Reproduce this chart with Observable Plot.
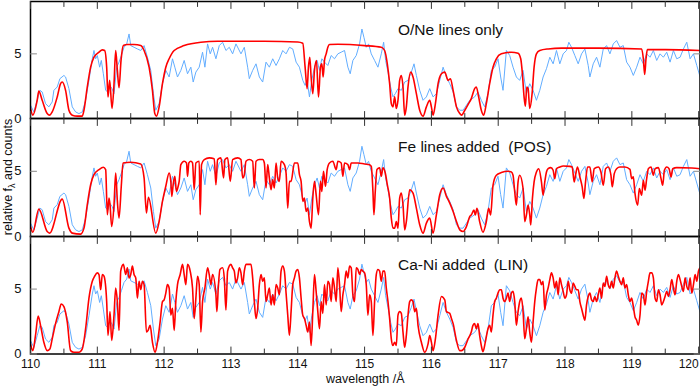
<!DOCTYPE html>
<html><head><meta charset="utf-8">
<script src="https://cdn.jsdelivr.net/npm/d3@7"></script>
<script src="https://cdn.jsdelivr.net/npm/@observablehq/plot@0.6"></script>
<style>
body{margin:0;background:#fff;}
#chart{position:relative;width:700px;height:387px;font-family:"Liberation Sans",Arial,sans-serif;}
#chart svg{display:block;}
</style></head><body><div id="chart"></div>
<script>
// observed counts (blue), wavelength in Å and relative value
const observed = [[110.000,1.03],[110.050,0.51],[110.100,1.41],[110.140,2.18],[110.175,2.05],[110.225,1.15],[110.275,0.90],[110.325,1.28],[110.350,2.18],[110.400,2.44],[110.440,3.08],[110.500,3.33],[110.525,3.21],[110.575,2.31],[110.625,0.90],[110.675,0.51],[110.725,0.38],[110.775,0.51],[110.825,1.41],[110.875,2.95],[110.925,4.62],[110.950,5.26],[110.975,4.62],[111.000,4.87],[111.035,3.97],[111.060,4.49],[111.090,3.46],[111.125,2.18],[111.160,2.05],[111.185,2.56],[111.220,2.31],[111.250,1.92],[111.290,3.97],[111.325,4.36],[111.360,4.87],[111.400,5.51],[111.440,5.77],[111.475,6.54],[111.500,5.64],[111.550,5.51],[111.600,5.38],[111.650,5.26],[111.700,5.64],[111.750,4.74],[111.800,3.72],[111.840,1.92],[111.875,0.64],[111.925,1.15],[111.975,2.69],[112.025,3.72],[112.075,3.21],[112.125,4.62],[112.160,3.97],[112.200,3.21],[112.250,3.72],[112.300,4.49],[112.350,3.46],[112.400,3.97],[112.435,2.82],[112.475,3.59],[112.525,3.97],[112.575,5.13],[112.610,3.97],[112.650,5.77],[112.690,5.00],[112.725,5.51],[112.775,4.62],[112.825,5.64],[112.875,5.90],[112.925,5.26],[112.975,5.51],[113.025,5.00],[113.075,5.77],[113.150,5.00],[113.200,5.51],[113.250,3.97],[113.275,3.08],[113.325,3.72],[113.375,4.23],[113.425,3.21],[113.475,2.82],[113.525,4.36],[113.575,3.97],[113.625,4.62],[113.675,4.10],[113.725,4.62],[113.775,5.26],[113.825,5.00],[113.875,5.51],[113.925,5.38],[113.975,4.36],[114.025,3.97],[114.075,2.95],[114.110,2.56],[114.140,2.95],[114.175,1.67],[114.210,2.95],[114.250,3.97],[114.290,4.49],[114.325,3.72],[114.360,4.62],[114.400,4.36],[114.450,4.10],[114.500,4.87],[114.550,4.62],[114.600,5.00],[114.650,5.13],[114.700,5.26],[114.750,3.97],[114.785,3.46],[114.825,4.49],[114.875,4.87],[114.925,5.77],[114.960,6.92],[114.990,6.28],[115.025,5.51],[115.060,5.77],[115.100,5.00],[115.150,4.49],[115.200,3.97],[115.250,5.00],[115.285,5.90],[115.315,4.49],[115.350,3.59],[115.390,2.44],[115.425,1.67],[115.460,1.92],[115.500,2.31],[115.550,2.18],[115.600,2.82],[115.650,2.95],[115.700,3.59],[115.740,4.23],[115.775,3.33],[115.825,2.18],[115.875,1.41],[115.925,1.67],[115.975,2.31],[116.025,1.67],[116.075,1.92],[116.125,2.95],[116.175,3.97],[116.225,3.21],[116.275,2.69],[116.325,2.05],[116.375,0.90],[116.425,0.64],[116.475,0.64],[116.525,1.03],[116.575,1.41],[116.647,1.67],[116.697,2.05],[116.747,1.41],[116.797,0.90],[116.847,1.92],[116.897,3.72],[116.947,3.97],[116.997,4.62],[117.037,3.21],[117.072,2.18],[117.122,5.26],[117.172,4.87],[117.222,3.97],[117.272,3.21],[117.322,2.95],[117.372,3.72],[117.422,1.92],[117.472,2.69],[117.522,2.18],[117.572,1.41],[117.622,2.18],[117.672,3.21],[117.722,3.85],[117.772,4.74],[117.822,4.23],[117.872,5.26],[117.922,4.23],[117.972,5.00],[118.022,5.26],[118.057,5.90],[118.097,5.51],[118.147,4.87],[118.197,4.23],[118.247,5.00],[118.297,5.38],[118.347,4.10],[118.372,3.21],[118.422,4.23],[118.472,4.74],[118.522,3.97],[118.572,5.38],[118.622,5.64],[118.672,5.00],[118.722,5.77],[118.772,6.03],[118.822,5.51],[118.872,5.64],[118.922,4.36],[118.972,3.97],[119.022,3.33],[119.072,3.97],[119.122,4.74],[119.172,4.23],[119.222,5.00],[119.272,4.74],[119.322,5.26],[119.372,4.49],[119.422,5.00],[119.472,4.74],[119.522,5.13],[119.572,4.36],[119.622,5.26],[119.672,4.62],[119.722,4.74],[119.772,5.38],[119.822,5.90],[119.872,4.62],[119.922,5.00],[119.972,4.10],[120.022,3.21]];

// model: O/Ne lines only (red, panel 1)
const modelONe = [[110.000,0.77],[110.035,0.26],[110.100,1.41],[110.125,2.13],[110.175,1.41],[110.250,0.38],[110.285,0.26],[110.325,0.51],[110.400,1.67],[110.450,2.69],[110.475,2.82],[110.525,2.18],[110.575,0.64],[110.625,0.26],[110.700,0.18],[110.775,0.18],[110.800,0.64],[110.850,2.44],[110.900,3.97],[110.950,4.74],[111.025,5.13],[111.075,5.31],[111.110,5.26],[111.140,3.97],[111.160,1.67],[111.185,2.95],[111.220,0.77],[111.250,2.69],[111.275,5.26],[111.300,3.72],[111.325,2.38],[111.355,4.49],[111.390,5.64],[111.450,5.72],[111.550,5.72],[111.650,5.64],[111.700,5.26],[111.775,3.97],[111.825,2.18],[111.860,0.38],[111.885,0.18],[111.925,0.90],[111.975,2.69],[112.025,3.97],[112.075,4.62],[112.150,5.26],[112.300,5.64],[112.550,5.90],[112.800,5.97],[113.000,5.97],[113.500,5.97],[114.000,5.92],[114.075,5.82],[114.110,3.97],[114.140,2.31],[114.160,3.97],[114.180,4.74],[114.200,3.21],[114.225,1.92],[114.250,3.72],[114.280,4.49],[114.310,1.67],[114.340,3.97],[114.360,4.23],[114.380,3.21],[114.400,4.49],[114.425,5.00],[114.450,5.51],[114.475,5.72],[114.600,5.74],[115.000,5.64],[115.250,5.51],[115.300,5.26],[115.340,4.23],[115.375,2.69],[115.400,1.15],[115.425,0.90],[115.450,1.67],[115.475,0.77],[115.500,1.41],[115.525,2.95],[115.550,3.33],[115.575,2.44],[115.600,0.26],[115.625,0.90],[115.650,2.44],[115.690,3.59],[115.725,3.21],[115.775,1.92],[115.825,0.64],[115.875,0.18],[115.925,0.90],[115.975,1.41],[116.000,0.90],[116.025,0.26],[116.060,1.15],[116.100,2.69],[116.150,3.46],[116.200,3.59],[116.250,2.95],[116.285,3.08],[116.325,2.18],[116.375,0.90],[116.425,0.38],[116.450,0.26],[116.500,0.64],[116.550,1.10],[116.597,1.54],[116.647,2.31],[116.672,2.44],[116.707,1.67],[116.747,0.64],[116.782,0.26],[116.822,1.15],[116.872,2.69],[116.922,3.97],[116.972,4.62],[117.047,5.00],[117.197,5.13],[117.297,5.05],[117.337,4.62],[117.362,3.46],[117.387,1.67],[117.407,0.95],[117.427,2.44],[117.447,2.31],[117.472,0.77],[117.507,1.92],[117.537,3.97],[117.572,5.00],[117.622,5.26],[117.747,5.38],[117.947,5.44],[118.500,5.44],[119.147,5.38],[119.172,4.62],[119.192,3.41],[119.212,4.62],[119.232,5.33],[119.500,5.33],[120.022,5.26]];

// model: Fe lines added (POS) (red, panel 2)
const modelFe = [[110.000,0.77],[110.035,0.33],[110.125,2.10],[110.250,0.38],[110.285,0.26],[110.475,2.87],[110.575,0.64],[110.625,0.26],[110.750,0.18],[110.800,0.64],[110.850,2.44],[110.900,3.97],[110.950,4.74],[111.025,5.13],[111.090,5.31],[111.125,5.13],[111.150,1.67],[111.175,2.95],[111.190,2.44],[111.215,0.77],[111.250,2.44],[111.275,4.87],[111.300,2.69],[111.325,1.41],[111.360,3.97],[111.385,5.64],[111.500,5.69],[111.650,5.56],[111.700,4.49],[111.735,1.80],[111.765,3.00],[111.875,0.26],[111.925,1.15],[111.975,2.69],[112.025,3.85],[112.075,4.87],[112.100,4.23],[112.115,3.08],[112.135,3.97],[112.160,4.62],[112.185,3.46],[112.210,3.85],[112.225,4.23],[112.250,5.51],[112.300,5.77],[112.335,5.64],[112.350,4.62],[112.370,5.64],[112.400,5.77],[112.425,5.64],[112.450,3.59],[112.475,5.64],[112.525,5.77],[112.540,1.67],[112.560,5.51],[112.600,5.90],[112.675,6.03],[112.750,5.97],[112.775,3.97],[112.800,5.90],[112.850,6.03],[112.890,4.49],[112.910,5.90],[112.950,6.03],[112.990,4.23],[113.025,5.90],[113.100,6.03],[113.150,5.90],[113.175,4.49],[113.200,4.74],[113.225,5.77],[113.275,5.90],[113.325,5.77],[113.350,3.72],[113.375,5.77],[113.425,5.90],[113.475,5.90],[113.500,5.64],[113.525,3.72],[113.550,5.51],[113.575,4.49],[113.600,3.59],[113.625,4.36],[113.650,3.72],[113.675,5.64],[113.700,4.49],[113.725,4.23],[113.750,5.77],[113.800,5.51],[113.825,4.87],[113.850,2.18],[113.875,4.23],[113.900,4.23],[113.950,5.64],[114.000,5.64],[114.025,4.74],[114.050,4.23],[114.075,2.69],[114.100,2.95],[114.125,1.92],[114.150,2.18],[114.175,1.15],[114.200,0.64],[114.225,2.95],[114.250,4.23],[114.275,3.21],[114.310,1.67],[114.340,4.23],[114.360,3.46],[114.385,5.00],[114.415,3.85],[114.440,5.13],[114.475,5.64],[114.525,5.77],[114.575,5.13],[114.600,5.77],[114.650,5.64],[114.675,4.62],[114.700,5.64],[114.750,5.51],[114.775,5.13],[114.800,5.64],[114.900,5.64],[115.000,5.56],[115.075,5.51],[115.100,5.38],[115.125,3.46],[115.140,1.67],[115.160,3.46],[115.185,5.13],[115.225,5.26],[115.250,4.62],[115.275,5.26],[115.310,4.87],[115.340,3.97],[115.375,2.95],[115.400,1.41],[115.425,0.64],[115.450,0.64],[115.475,1.15],[115.500,0.64],[115.525,2.95],[115.550,3.33],[115.575,2.44],[115.600,0.51],[115.625,1.15],[115.675,3.59],[115.725,3.33],[115.775,2.18],[115.825,0.90],[115.875,0.26],[115.925,1.03],[115.975,1.41],[116.025,0.26],[116.075,1.67],[116.125,3.21],[116.175,3.72],[116.225,3.08],[116.275,2.56],[116.325,1.92],[116.375,1.15],[116.425,0.51],[116.475,0.38],[116.525,0.77],[116.575,1.54],[116.597,1.65],[116.637,2.03],[116.657,1.65],[116.682,2.16],[116.722,1.14],[116.772,0.33],[116.822,1.14],[116.857,2.16],[116.887,1.65],[116.922,3.93],[116.972,4.70],[117.047,4.90],[117.147,5.00],[117.197,4.95],[117.222,4.70],[117.247,3.43],[117.272,2.41],[117.297,4.19],[117.322,4.70],[117.372,3.68],[117.397,1.14],[117.422,1.65],[117.447,2.41],[117.472,1.65],[117.487,0.89],[117.512,2.92],[117.537,4.19],[117.572,4.95],[117.607,5.20],[117.647,4.19],[117.672,3.17],[117.697,4.19],[117.722,4.95],[117.747,5.20],[117.787,5.28],[117.822,5.08],[117.847,4.44],[117.872,5.20],[117.922,5.33],[117.972,5.41],[118.072,5.38],[118.107,5.33],[118.137,4.19],[118.157,4.70],[118.187,5.33],[118.222,4.57],[118.257,3.81],[118.282,2.92],[118.307,4.19],[118.337,5.33],[118.372,5.33],[118.407,4.19],[118.437,5.20],[118.497,5.33],[118.537,4.95],[118.572,3.93],[118.607,5.20],[118.647,5.33],[118.687,4.70],[118.707,3.81],[118.737,4.82],[118.772,5.20],[118.822,5.33],[118.897,5.33],[118.972,5.15],[118.997,4.44],[119.022,4.57],[119.047,3.30],[119.087,2.41],[119.112,3.68],[119.147,3.17],[119.172,4.31],[119.197,3.55],[119.222,4.44],[119.247,5.20],[119.287,5.33],[119.322,4.70],[119.347,5.20],[119.397,5.28],[119.437,4.44],[119.462,3.93],[119.487,5.08],[119.522,5.33],[119.557,5.20],[119.587,4.57],[119.612,5.20],[119.672,5.28],[119.897,5.25],[120.022,5.20]];

// model: Ca-Ni added (LIN) (red, panel 3)
const modelCaNi = [[110.000,0.78],[110.035,0.26],[110.075,1.43],[110.115,2.92],[110.150,2.21],[110.200,0.91],[110.250,0.26],[110.290,0.39],[110.325,1.17],[110.375,2.34],[110.425,3.26],[110.460,3.85],[110.500,3.65],[110.550,2.47],[110.600,0.26],[110.650,0.13],[110.725,0.13],[110.775,0.39],[110.825,1.95],[110.875,4.30],[110.925,5.60],[110.960,5.99],[111.000,6.25],[111.025,6.12],[111.050,4.95],[111.075,6.12],[111.100,5.99],[111.140,4.04],[111.160,1.43],[111.190,3.26],[111.215,1.04],[111.250,2.99],[111.275,5.08],[111.300,4.04],[111.325,1.82],[111.350,6.38],[111.390,6.90],[111.425,6.12],[111.450,6.64],[111.475,5.86],[111.500,6.12],[111.525,6.77],[111.550,6.12],[111.575,5.86],[111.600,4.30],[111.625,5.60],[111.650,4.95],[111.675,5.60],[111.700,5.34],[111.735,1.69],[111.760,1.82],[111.790,2.21],[111.825,0.91],[111.865,0.13],[111.900,0.91],[111.940,2.47],[111.975,4.04],[112.000,4.17],[112.025,4.69],[112.050,5.34],[112.075,5.08],[112.100,2.99],[112.125,3.52],[112.150,1.82],[112.175,4.04],[112.200,5.34],[112.240,6.12],[112.275,6.90],[112.300,6.12],[112.325,5.34],[112.350,6.90],[112.390,6.38],[112.425,5.08],[112.450,2.73],[112.475,4.30],[112.500,5.99],[112.525,5.34],[112.550,1.69],[112.575,4.04],[112.610,5.08],[112.650,6.64],[112.675,6.12],[112.700,5.34],[112.725,6.12],[112.775,4.56],[112.790,3.26],[112.810,5.08],[112.835,6.51],[112.875,6.64],[112.900,5.86],[112.925,3.39],[112.950,6.38],[113.000,6.90],[113.025,6.64],[113.050,6.38],[113.075,5.47],[113.100,5.86],[113.125,6.64],[113.150,6.25],[113.175,5.34],[113.200,6.38],[113.225,6.90],[113.275,6.90],[113.300,6.90],[113.325,5.86],[113.350,4.04],[113.375,2.73],[113.400,3.52],[113.425,5.34],[113.450,6.12],[113.475,5.60],[113.500,5.86],[113.525,4.04],[113.550,4.56],[113.575,5.08],[113.600,3.78],[113.625,4.56],[113.650,3.78],[113.675,5.34],[113.700,5.08],[113.725,4.56],[113.750,6.38],[113.775,6.77],[113.800,6.38],[113.825,4.69],[113.850,2.99],[113.875,1.43],[113.900,3.26],[113.925,5.34],[113.950,5.86],[113.975,6.38],[114.000,6.51],[114.025,5.86],[114.050,4.30],[114.075,2.99],[114.100,2.73],[114.125,2.21],[114.150,1.69],[114.175,2.47],[114.200,0.65],[114.225,3.26],[114.250,6.12],[114.275,4.82],[114.300,3.26],[114.325,1.95],[114.350,4.04],[114.375,3.13],[114.400,5.34],[114.425,3.78],[114.450,5.60],[114.475,5.34],[114.500,4.04],[114.525,5.86],[114.550,5.08],[114.575,4.04],[114.600,6.64],[114.625,5.34],[114.650,3.26],[114.675,4.56],[114.700,5.34],[114.725,6.38],[114.750,5.86],[114.775,6.77],[114.800,6.64],[114.825,4.56],[114.850,4.04],[114.875,6.64],[114.900,6.51],[114.925,6.12],[114.950,6.51],[114.975,6.38],[115.000,6.25],[115.025,5.34],[115.050,2.99],[115.075,4.56],[115.100,4.04],[115.125,1.43],[115.150,4.04],[115.175,6.12],[115.200,6.51],[115.225,6.38],[115.250,5.60],[115.275,6.38],[115.300,6.38],[115.325,5.08],[115.350,4.04],[115.375,2.73],[115.400,1.17],[115.425,0.65],[115.450,0.91],[115.475,0.65],[115.500,2.99],[115.525,3.26],[115.550,3.13],[115.575,1.69],[115.600,0.52],[115.625,1.43],[115.650,2.99],[115.675,4.04],[115.700,4.17],[115.725,4.04],[115.750,3.26],[115.775,3.52],[115.800,2.21],[115.850,0.91],[115.900,0.13],[115.950,0.78],[115.975,1.43],[116.000,0.91],[116.025,0.26],[116.060,1.17],[116.100,2.99],[116.150,4.43],[116.200,4.17],[116.225,3.26],[116.275,3.13],[116.300,2.73],[116.325,2.34],[116.375,1.04],[116.425,0.26],[116.450,0.26],[116.500,0.52],[116.550,1.17],[116.597,1.69],[116.622,2.21],[116.647,2.34],[116.672,1.95],[116.697,2.34],[116.722,1.43],[116.747,0.65],[116.772,0.18],[116.807,0.91],[116.847,1.95],[116.872,2.21],[116.897,1.69],[116.922,2.99],[116.947,4.04],[116.972,4.30],[116.997,4.69],[117.022,4.95],[117.047,4.95],[117.072,4.30],[117.097,4.04],[117.122,4.30],[117.147,4.69],[117.172,4.04],[117.197,4.69],[117.222,4.82],[117.247,4.04],[117.272,2.21],[117.297,3.26],[117.322,4.04],[117.347,4.30],[117.372,3.26],[117.397,1.17],[117.422,1.95],[117.447,2.86],[117.472,1.69],[117.497,0.91],[117.522,2.47],[117.547,4.04],[117.572,5.08],[117.597,5.73],[117.622,5.73],[117.647,5.34],[117.672,5.60],[117.697,3.39],[117.722,4.56],[117.747,5.08],[117.772,5.73],[117.797,6.25],[117.822,5.86],[117.847,5.08],[117.872,5.60],[117.897,4.56],[117.922,5.86],[117.947,5.34],[117.972,4.82],[117.997,4.30],[118.022,4.56],[118.047,5.60],[118.072,4.95],[118.097,4.69],[118.122,5.47],[118.147,5.21],[118.172,4.95],[118.197,4.95],[118.222,4.04],[118.247,3.52],[118.272,2.99],[118.297,2.60],[118.322,3.78],[118.347,4.43],[118.372,4.69],[118.397,4.17],[118.422,4.04],[118.447,4.43],[118.472,4.04],[118.497,4.56],[118.522,5.08],[118.547,4.30],[118.572,5.47],[118.597,5.21],[118.622,5.99],[118.647,5.34],[118.672,5.08],[118.697,5.60],[118.722,5.08],[118.747,5.86],[118.772,6.38],[118.797,5.99],[118.822,5.60],[118.847,5.34],[118.872,5.86],[118.897,5.08],[118.922,5.34],[118.947,4.56],[118.972,4.04],[118.997,4.30],[119.022,3.65],[119.047,2.86],[119.072,2.60],[119.097,2.21],[119.122,2.99],[119.147,4.69],[119.172,4.56],[119.197,3.78],[119.222,4.82],[119.247,5.60],[119.272,6.25],[119.297,6.25],[119.322,5.86],[119.347,4.30],[119.372,4.04],[119.397,4.95],[119.422,4.56],[119.447,3.78],[119.472,4.04],[119.497,4.43],[119.522,4.82],[119.547,4.43],[119.572,4.95],[119.597,5.73],[119.622,5.08],[119.647,4.56],[119.672,5.60],[119.697,6.12],[119.722,5.73],[119.747,5.21],[119.772,4.82],[119.797,5.86],[119.822,5.21],[119.847,4.95],[119.872,5.86],[119.897,4.69],[119.922,5.34],[119.947,6.12],[119.972,5.60],[119.997,6.38],[120.022,6.64]];

const panelTitles = ["O/Ne lines only", "Fe lines added  (POS)", "Ca-Ni added  (LIN)"];
const xMajorTicks = [110, 111, 112, 113, 114, 115, 116, 117, 118, 119, 120];
const xMinorTicks = [110.5, 111.5, 112.5, 113.5, 114.5, 115.5, 116.5, 117.5, 118.5, 119.5];
const yTicks = [0, 5];
const xLabel = "wavelength /Å";
const yLabelParts = ["relative f", "λ", " and counts"];

const FONT = "'Liberation Sans', Arial, Helvetica, sans-serif";
const BLUE = "#62adff";
const RED = "#ff0000";

// plain tick shape for vectors (a straight line, no arrowhead)
const tickShape = {draw(context, l) { context.moveTo(0, 0); context.lineTo(0, -l); }};

function panel(model, title, opts) {
  const marks = [
    Plot.line(observed, {x: d => d[0], y: d => d[1], stroke: BLUE, strokeWidth: 1, clip: true}),
    Plot.line(model, {x: d => d[0], y: d => d[1], stroke: RED, strokeWidth: 1.6, curve: "monotone-x", clip: true}),
    Plot.frame({stroke: "#000", strokeWidth: 1.5}),
    // inward x ticks, bottom and top
    Plot.vector(xMajorTicks, {x: d => d, frameAnchor: "bottom", length: 7, rotate: 0, anchor: "start", shape: tickShape, stroke: "#333", strokeWidth: 1}),
    Plot.vector(xMinorTicks, {x: d => d, frameAnchor: "bottom", length: 5, rotate: 0, anchor: "start", shape: tickShape, stroke: "#333", strokeWidth: 1}),
    Plot.vector(xMajorTicks, {x: d => d, frameAnchor: "top", length: 7, rotate: 180, anchor: "start", shape: tickShape, stroke: "#333", strokeWidth: 1}),
    Plot.vector(xMinorTicks, {x: d => d, frameAnchor: "top", length: 5, rotate: 180, anchor: "start", shape: tickShape, stroke: "#333", strokeWidth: 1}),
    // inward y ticks, left and right
    Plot.vector(yTicks, {y: d => d, frameAnchor: "left", length: 6, rotate: 90, anchor: "start", shape: tickShape, stroke: "#888", strokeWidth: 1}),
    Plot.vector(yTicks, {y: d => d, frameAnchor: "right", length: 6, rotate: -90, anchor: "start", shape: tickShape, stroke: "#888", strokeWidth: 1}),
    Plot.axisY(yTicks, {anchor: "left", tickSize: 0, tickPadding: 9, fontSize: 13, label: null, fill: "#111"}),
    Plot.text([title], {text: d => d, frameAnchor: "top-left", dx: 367.5, dy: 22, textAnchor: "start", fontSize: 15.5, fill: "#111"})
  ];
  if (opts.showX) {
    marks.push(
      Plot.axisX(xMajorTicks.filter(t => t < 120), {anchor: "bottom", tickSize: 0, tickPadding: 5, fontSize: 12, label: null, fill: "#111"}),
      Plot.axisX(xMajorTicks.filter(t => t >= 120), {anchor: "bottom", tickSize: 0, tickPadding: 5, fontSize: 12, label: null, textAnchor: "end", fill: "#111"}),
      Plot.text([xLabel], {text: d => d, frameAnchor: "bottom", dy: 29, fontSize: 12.5, fill: "#111"})
    );
  }
  return Plot.plot({
    width: 700,
    height: opts.height,
    marginTop: opts.marginTop,
    marginBottom: opts.marginBottom,
    marginLeft: 30,
    marginRight: 0.5,
    x: {domain: [110, 120.02], axis: opts.showX ? undefined : null},
    y: {domain: [0, 9.05]},
    style: {background: "transparent", overflow: "visible", fontFamily: FONT, fontSize: "13px", color: "#111"},
    marks
  });
}

const chart = document.getElementById("chart");
chart.appendChild(panel(modelONe, panelTitles[0], {height: 118, marginTop: 1, marginBottom: 0}));
chart.appendChild(panel(modelFe, panelTitles[1], {height: 118, marginTop: 0, marginBottom: 0}));
chart.appendChild(panel(modelCaNi, panelTitles[2], {height: 151, marginTop: 0, marginBottom: 33.5, showX: true}));

// rotated y-axis title with subscript lambda
const lab = d3.select(chart).append("svg")
  .attr("width", 20).attr("height", 387)
  .style("position", "absolute").style("left", "0px").style("top", "0px").style("overflow", "visible");
const t = lab.append("text")
  .attr("transform", "translate(11.5,177) rotate(-90)")
  .attr("text-anchor", "middle")
  .attr("fill", "#111")
  .style("font-family", FONT).style("font-size", "12.5px");
t.append("tspan").text(yLabelParts[0]);
t.append("tspan").attr("dy", 3).style("font-size", "9px").text(yLabelParts[1]);
t.append("tspan").attr("dy", -3).text(yLabelParts[2]);
</script>
</body></html>
